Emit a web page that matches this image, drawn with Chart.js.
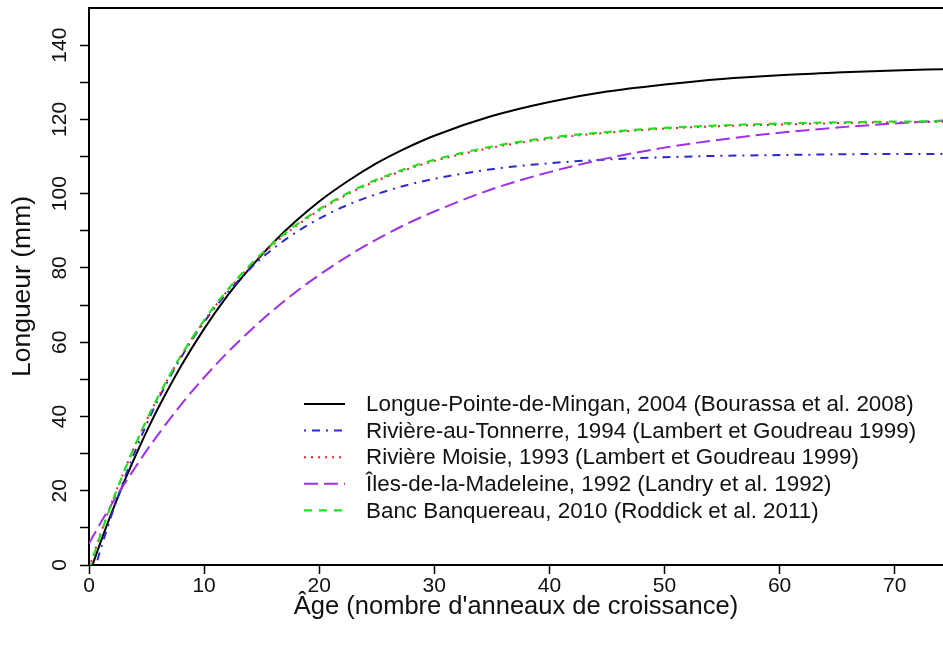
<!DOCTYPE html>
<html><head><meta charset="utf-8">
<script src="https://cdn.jsdelivr.net/npm/chart.js@4"></script>
<style>html,body{margin:0;padding:0;background:#fff}#wrap{width:943px;height:649px}</style>
</head><body><div id="wrap"><canvas id="c" width="943" height="649"></canvas></div>
<script>
// Ages (nombre d'anneaux de croissance)
const ages = [0,1,2,3,4,5,6,8,10,12,14,16,18,20,22.5,25,27.5,30,35,40,45,50,55,60,65,70,74.2];
// Longueur (mm)
const longuePointe = [-2.7,6.1,14.3,22.0,29.1,35.9,42.2,53.6,63.6,72.4,80.0,86.8,92.7,97.9,103.4,108.2,112.2,115.6,120.9,124.7,127.5,129.4,130.9,131.9,132.6,133.2,133.5];
const riviereTonnerre = [-6.5,4.1,13.8,22.6,30.6,37.9,44.5,55.9,65.4,73.3,79.8,85.2,89.6,93.3,97.0,99.9,102.2,104.0,106.6,108.2,109.2,109.8,110.2,110.4,110.6,110.7,110.7];
const riviereMoisie = [-1.0,8.4,17.0,24.9,32.2,39.0,45.2,56.3,65.7,73.7,80.5,86.3,91.3,95.5,99.9,103.5,106.4,108.8,112.4,114.8,116.4,117.5,118.2,118.6,119.0,119.2,119.3];
const ilesMadeleine = [5.8,11.3,16.5,21.5,26.2,30.8,35.1,43.2,50.5,57.1,63.1,68.6,73.6,78.1,83.2,87.7,91.7,95.2,101.2,105.8,109.5,112.4,114.6,116.4,117.8,118.9,119.7];
const bancBanquereau = [-1.4,8.1,16.8,24.8,32.2,39.0,45.3,56.4,65.9,74.0,80.8,86.7,91.6,95.8,100.2,103.8,106.7,109.1,112.7,115.1,116.6,117.7,118.4,118.9,119.2,119.4,119.5];

const seriesLabels = [
  "Longue-Pointe-de-Mingan, 2004 (Bourassa et al. 2008)",
  "Rivière-au-Tonnerre, 1994 (Lambert et Goudreau 1999)",
  "Rivière Moisie, 1993 (Lambert et Goudreau 1999)",
  "Îles-de-la-Madeleine, 1992 (Landry et al. 1992)",
  "Banc Banquereau, 2010 (Roddick et al. 2011)"
];
const xTickValues = [0,10,20,30,40,50,60,70];
const xTickLabels = ['0','10','20','30','40','50','60','70'];
const yTickValues = [0,10,20,30,40,50,60,70,80,90,100,110,120,130,140];
const yTickLabels = ['0','','20','','40','','60','','80','','100','','120','','140'];

const FONT = "'Liberation Sans', Arial, Helvetica, sans-serif";
const pts = vals => ages.map((a,i)=>({x:a,y:vals[i]}));

const styles = [
  {color:'#000000', dash:[], order:5, width:2},
  {color:'#2a2ad0', dash:[2,6,8,6], order:4, width:2},
  {color:'#ee2222', dash:[2,5], order:3, width:2},
  {color:'#a030e8', dash:[14,6], order:2, width:2},
  {color:'#22e022', dash:[8,7], order:1, width:2.2}
];
const seriesValues = [longuePointe, riviereTonnerre, riviereMoisie, ilesMadeleine, bancBanquereau];

const datasets = seriesValues.map((v,i)=>({
  label: seriesLabels[i],
  data: pts(v),
  borderColor: styles[i].color,
  borderDash: styles[i].dash,
  borderWidth: styles[i].width,
  order: styles[i].order,
  pointRadius: 0,
  fill: false,
  cubicInterpolationMode: 'monotone',
  clip: 0
}));

const frame = {
  id: 'frame',
  afterDraw(chart){
    const {ctx, chartArea:a} = chart;
    ctx.save();
    ctx.strokeStyle = '#000'; ctx.lineWidth = 2;
    ctx.beginPath(); ctx.moveTo(a.left-1, a.top); ctx.lineTo(a.right, a.top); ctx.stroke();
    ctx.restore();
  }
};

const rLegend = {
  id: 'rLegend',
  afterDatasetsDraw(chart){
    const ctx = chart.ctx;
    const lx0 = 304, lx1 = 345, tx = 366, y0 = 404, dy = 26.6;
    ctx.save();
    ctx.font = "22.4px " + FONT;
    ctx.textBaseline = 'middle';
    ctx.textAlign = 'left';
    chart.data.datasets.forEach((ds,i)=>{
      const y = y0 + i*dy;
      ctx.strokeStyle = ds.borderColor;
      ctx.lineWidth = ds.borderWidth;
      ctx.setLineDash(ds.borderDash);
      ctx.beginPath(); ctx.moveTo(lx0,y); ctx.lineTo(lx1,y); ctx.stroke();
      ctx.setLineDash([]);
      ctx.fillStyle = '#111';
      ctx.fillText(ds.label, tx, y+1);
    });
    ctx.restore();
  }
};

const zeroPad = s => { s.paddingTop = 0; s.paddingBottom = 0; s.paddingLeft = 0; s.paddingRight = 0; };

new Chart(document.getElementById('c'), {
  type: 'line',
  data: { datasets },
  options: {
    responsive: false,
    animation: false,
    devicePixelRatio: 1,
    layout: { padding: { top: 8, left: 0, right: 0, bottom: 0 } },
    plugins: { legend: { display: false }, tooltip: { enabled: false } },
    scales: {
      x: {
        type: 'linear', min: 0, max: 74.2,
        afterBuildTicks: s => { s.ticks = xTickValues.map(v=>({value:v})); },
        afterFit: s => { s.height = 84; zeroPad(s); },
        border: { display: true, color: '#000', width: 2 },
        grid: { display: true, drawOnChartArea: false, drawTicks: true, tickLength: 9, tickColor: '#000', tickWidth: 1.5 },
        ticks: { color: '#111', font: { family: FONT, size: 21 }, padding: 0, maxRotation: 0,
          callback: v => xTickLabels[xTickValues.indexOf(v)] },
        title: { display: true, text: "Âge (nombre d'anneaux de croissance)", color: '#111',
          font: { family: FONT, size: 25.5 }, padding: { top: 0, bottom: 27 } }
      },
      y: {
        type: 'linear', min: 0, max: 150,
        afterBuildTicks: s => { s.ticks = yTickValues.map(v=>({value:v})); },
        afterFit: s => { s.width = 89; zeroPad(s); },
        border: { display: true, color: '#000', width: 2 },
        grid: { display: true, drawOnChartArea: false, drawTicks: true, tickLength: 9, tickColor: '#000', tickWidth: 1.5 },
        ticks: { color: '#111', font: { family: FONT, size: 21 }, padding: 2, minRotation: 90, maxRotation: 90,
          crossAlign: 'center', callback: v => yTickLabels[yTickValues.indexOf(v)] },
        title: { display: true, text: 'Longueur (mm)', color: '#111',
          font: { family: FONT, size: 26.5 }, padding: { top: 7, bottom: 0 } }
      }
    }
  },
  plugins: [frame, rLegend]
});
</script></body></html>
